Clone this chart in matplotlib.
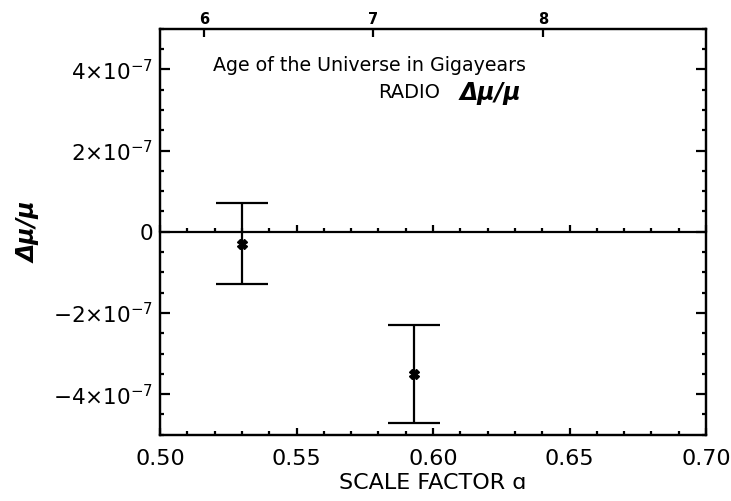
import matplotlib
matplotlib.use("Agg")
import matplotlib.pyplot as plt
from matplotlib.ticker import MultipleLocator, FuncFormatter

plt.rcParams['font.family'] = ['DejaVu Sans']
plt.rcParams['mathtext.fontset'] = 'dejavusans'

# Data
scale_factor = [0.530, 0.593]
dmu_mu = [-0.3e-7, -3.5e-7]
dmu_err = [1.0e-7, 1.2e-7]

# Top axis: age of the universe (Gyr) and corresponding scale factor positions
age_ticks = [6, 7, 8]
age_tick_a = [0.5161, 0.5780, 0.6403]

xlim = (0.50, 0.70)
ylim = (-5e-7, 5e-7)
ytick_vals = [-4e-7, -2e-7, 0, 2e-7, 4e-7]
xtick_vals = [0.50, 0.55, 0.60, 0.65, 0.70]

fig = plt.figure(figsize=(7.31, 5.01), dpi=100)
pos = [160/731, 1-434.7/501, (706-160)/731, (434.7-28.7)/501]
ax = fig.add_axes(pos)

lw = 1.6
ax.errorbar(scale_factor, dmu_mu, yerr=dmu_err, fmt='X', color='black',
            ms=7, elinewidth=lw, capsize=19, capthick=lw, zorder=3)

ax.set_xlim(*xlim)
ax.set_ylim(*ylim)
ax.set_xticks(xtick_vals)
ax.set_xticklabels([f"{v:.2f}" for v in xtick_vals])
ax.xaxis.set_minor_locator(MultipleLocator(0.01))
ax.set_yticks(ytick_vals)

def yfmt(v, p):
    if abs(v) < 1e-12:
        return "0"
    m = v / 1e-7
    return r"$%d{\times}10^{-7}$" % int(round(m))
ax.yaxis.set_major_formatter(FuncFormatter(yfmt))
ax.yaxis.set_minor_locator(MultipleLocator(0.5e-7))

for s in ax.spines.values():
    s.set_linewidth(lw)
ax.tick_params(axis='x', which='major', direction='in', length=5.4, width=lw,
               labelsize=16, pad=10, top=False)
ax.tick_params(axis='x', which='minor', direction='in', length=2.7, width=lw, top=False)
ax.tick_params(axis='y', which='major', direction='in', length=7.2, width=lw,
               labelsize=15.5, pad=5, right=True)
ax.tick_params(axis='y', which='minor', direction='in', length=3.2, width=lw, right=True)

ax.set_xlabel("SCALE FACTOR ɑ", fontsize=16, labelpad=3)
ax.set_ylabel("Δμ/μ", fontsize=17, fontweight='bold', style='italic', labelpad=9)

# Zero line with ticks (overlay axes)
az = fig.add_axes(pos)
az.set_xlim(*xlim)
az.set_ylim(*ylim)
az.patch.set_visible(False)
for k in ['top', 'left', 'right']:
    az.spines[k].set_visible(False)
az.spines['bottom'].set_position(('data', 0))
az.spines['bottom'].set_linewidth(lw)
az.set_xticks(xtick_vals)
az.xaxis.set_minor_locator(MultipleLocator(0.01))
az.set_yticks([])
az.tick_params(axis='x', which='major', direction='in', length=5.4, width=lw, labelbottom=False)
az.tick_params(axis='x', which='minor', direction='in', length=2.7, width=lw)

# Top axis: age
at = ax.twiny()
at.set_xlim(*xlim)
at.set_xticks(age_tick_a)
at.set_xticklabels([str(a) for a in age_ticks], fontweight='bold')
at.tick_params(axis='x', which='major', direction='in', length=6, width=lw,
               labelsize=10.5, pad=1.5)
for s in at.spines.values():
    s.set_linewidth(lw)

ax.text(0.097, 0.91, "Age of the Universe in Gigayears", transform=ax.transAxes,
        ha='left', va='center', fontsize=13.7)
ax.text(0.399, 0.842, "RADIO", transform=ax.transAxes,
        ha='left', va='center', fontsize=14)
ax.text(0.548, 0.842, "Δμ/μ", transform=ax.transAxes,
        ha='left', va='center', fontsize=17, fontweight='bold', style='italic')
fig.savefig("out.png", dpi=100)
